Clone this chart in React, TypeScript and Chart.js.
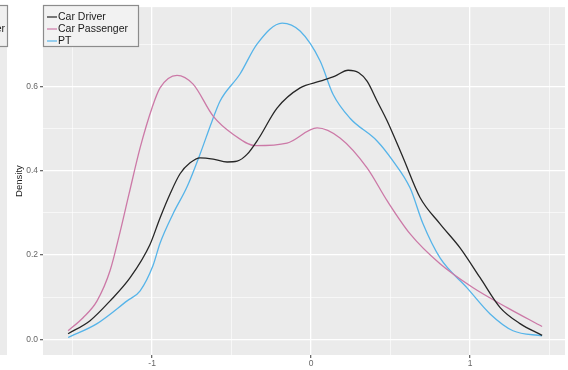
import React, { useEffect, useRef } from 'react';
import { Chart, registerables } from 'chart.js';

Chart.register(...registerables);

// ---- data ----
const seriesNames = ['Car Driver', 'Car Passenger', 'PT'];
const seriesColors = ['#262626', '#CC79A7', '#56B4E9'];

const driverX = [-1.528, -1.39, -1.264, -1.138, -1.013, -0.95, -0.887, -0.824, -0.761, -0.698, -0.616, -0.528, -0.465, -0.403, -0.333, -0.214, -0.069, 0.057, 0.15, 0.233, 0.3, 0.352, 0.415, 0.478, 0.579, 0.686, 0.811, 0.937, 1.063, 1.189, 1.314, 1.453];
const driverY = [0.013, 0.044, 0.091, 0.146, 0.225, 0.288, 0.345, 0.393, 0.419, 0.431, 0.428, 0.421, 0.423, 0.439, 0.475, 0.549, 0.597, 0.613, 0.625, 0.639, 0.633, 0.613, 0.566, 0.519, 0.431, 0.336, 0.274, 0.217, 0.146, 0.075, 0.037, 0.009];

const passengerX = [-1.528, -1.434, -1.346, -1.264, -1.201, -1.145, -1.075, -1.0, -0.95, -0.843, -0.742, -0.616, -0.491, -0.35, -0.151, 0.038, 0.182, 0.352, 0.478, 0.623, 0.811, 1.019, 1.233, 1.453];
const passengerY = [0.02, 0.051, 0.091, 0.163, 0.255, 0.345, 0.455, 0.55, 0.597, 0.627, 0.606, 0.53, 0.487, 0.46, 0.466, 0.502, 0.478, 0.407, 0.329, 0.25, 0.179, 0.122, 0.075, 0.03];

const ptX = [-1.528, -1.346, -1.157, -1.075, -0.994, -0.95, -0.868, -0.78, -0.698, -0.623, -0.572, -0.447, -0.34, -0.182, -0.069, 0.057, 0.138, 0.245, 0.415, 0.516, 0.623, 0.704, 0.811, 0.981, 1.126, 1.27, 1.453];
const ptY = [0.004, 0.037, 0.091, 0.115, 0.175, 0.228, 0.298, 0.362, 0.44, 0.518, 0.566, 0.63, 0.701, 0.751, 0.732, 0.661, 0.582, 0.525, 0.471, 0.423, 0.359, 0.274, 0.193, 0.122, 0.06, 0.02, 0.008];

const xMajorTicks = [-1, 0, 1];
const xMinorTicks = [-1.5, -0.5, 0.5, 1.5];
const yMajorTicks = [0, 0.2, 0.4, 0.6];
const yMinorTicks = [0.1, 0.3, 0.5, 0.7];
const yTitle = 'Density';

const xRange = [-1.686, 1.597];
const yRange = [-0.0376, 0.789];

const FONT = "'Liberation Sans', Arial, sans-serif";

const isMajor = (v: number, majors: number[]) => majors.some((m) => Math.abs(m - v) < 1e-6);

const pairs = (xs: number[], ys: number[]) => xs.map((x, i) => ({ x, y: ys[i] }));

const backgroundPlugin = {
  id: 'panelBg',
  beforeDraw(chart: any) {
    const { ctx, chartArea } = chart;
    ctx.save();
    ctx.fillStyle = '#EBEBEB';
    ctx.fillRect(chartArea.left, chartArea.top, chartArea.right - chartArea.left, chartArea.bottom - chartArea.top);
    // neighbouring panel strip at the left edge
    ctx.fillRect(0, chartArea.top, 7, chartArea.bottom - chartArea.top);
    ctx.fillStyle = '#F0F0F0';
    ctx.fillRect(0, 5, 7.5, 41);
    ctx.strokeStyle = '#8c8c8c';
    ctx.lineWidth = 1.2;
    ctx.strokeRect(-5, 5.5, 12.5, 41);
    ctx.beginPath();
    ctx.rect(0, 5, 6.5, 41);
    ctx.clip();
    ctx.fillStyle = '#222';
    ctx.font = `10.5px ${FONT}`;
    ctx.textAlign = 'right';
    ctx.textBaseline = 'middle';
    ctx.fillText('Car Passenger', 5, 29);
    ctx.restore();
  },
};

const legendPlugin = {
  id: 'insetLegend',
  afterDraw(chart: any) {
    const { ctx } = chart;
    ctx.save();
    const bx = 43.5, by = 5.5, bw = 95, bh = 41;
    ctx.fillStyle = '#F2F2F2';
    ctx.fillRect(bx, by, bw, bh);
    ctx.strokeStyle = '#8c8c8c';
    ctx.lineWidth = 1.2;
    ctx.strokeRect(bx, by, bw, bh);
    ctx.font = `10.5px ${FONT}`;
    ctx.textBaseline = 'middle';
    ctx.textAlign = 'left';
    seriesNames.forEach((name, i) => {
      const y = 17 + i * 12;
      ctx.strokeStyle = seriesColors[i];
      ctx.lineWidth = 1.2;
      ctx.beginPath();
      ctx.moveTo(47, y);
      ctx.lineTo(57, y);
      ctx.stroke();
      ctx.fillStyle = '#1a1a1a';
      ctx.fillText(name, 58, y + 0.5);
    });
    ctx.restore();
  },
};

export default function App() {
  const canvasRef = useRef<HTMLCanvasElement | null>(null);

  useEffect(() => {
    document.body.style.margin = '0';
    const canvas = canvasRef.current;
    if (!canvas) return;
    Chart.defaults.font.family = FONT;

    const series = [pairs(driverX, driverY), pairs(passengerX, passengerY), pairs(ptX, ptY)];

    const chart = new Chart(canvas, {
      type: 'line',
      data: {
        datasets: series.map((d, i) => ({
          label: seriesNames[i],
          data: d,
          borderColor: seriesColors[i],
          backgroundColor: seriesColors[i],
          borderWidth: 1.3,
          pointRadius: 0,
          fill: false,
          cubicInterpolationMode: 'monotone' as const,
        })),
      },
      options: {
        responsive: false,
        animation: false,
        devicePixelRatio: 1,
        layout: { padding: { top: 6, right: 3, left: 0, bottom: 0 } },
        plugins: {
          legend: { display: false },
          tooltip: { enabled: false },
        },
        scales: {
          x: {
            type: 'linear',
            min: xRange[0],
            max: xRange[1],
            afterBuildTicks: (scale: any) => {
              scale.ticks = [...xMajorTicks, ...xMinorTicks].sort((a, b) => a - b).map((v) => ({ value: v }));
            },
            afterFit: (scale: any) => {
              scale.height = 15;
            },
            border: { display: false },
            grid: {
              color: '#FFFFFF',
              lineWidth: (c: any) => (c.tick && isMajor(c.tick.value, xMajorTicks) ? 1.3 : 0.6),
              tickColor: (c: any) => (c.tick && isMajor(c.tick.value, xMajorTicks) ? '#6a6a6a' : 'rgba(0,0,0,0)'),
              tickLength: 3,
            },
            ticks: {
              autoSkip: false,
              maxRotation: 0,
              padding: 1,
              color: '#666666',
              font: { size: 8.5 },
              callback: (v: any) => (isMajor(Number(v), xMajorTicks) ? String(Math.round(Number(v))) : ''),
            },
          },
          y: {
            type: 'linear',
            min: yRange[0],
            max: yRange[1],
            afterBuildTicks: (scale: any) => {
              scale.ticks = [...yMajorTicks, ...yMinorTicks].sort((a, b) => a - b).map((v) => ({ value: v }));
            },
            afterFit: (scale: any) => {
              scale.width = 43;
            },
            border: { display: false },
            grid: {
              color: '#FFFFFF',
              lineWidth: (c: any) => (c.tick && isMajor(c.tick.value, yMajorTicks) ? 1.3 : 0.6),
              tickColor: (c: any) => (c.tick && isMajor(c.tick.value, yMajorTicks) ? '#6a6a6a' : 'rgba(0,0,0,0)'),
              tickLength: 3,
            },
            ticks: {
              autoSkip: false,
              padding: 2,
              color: '#666666',
              font: { size: 8.5 },
              callback: (v: any) => (isMajor(Number(v), yMajorTicks) ? Number(v).toFixed(1) : ''),
            },
            title: {
              display: true,
              text: yTitle,
              color: '#1a1a1a',
              font: { size: 9.5 },
              padding: { top: 14, bottom: 0 },
            },
          },
        },
      },
      plugins: [backgroundPlugin, legendPlugin],
    });

    return () => chart.destroy();
  }, []);

  return (
    <div style={{ width: 568, height: 370 }}>
      <canvas ref={canvasRef} width={568} height={370} style={{ display: 'block' }} />
    </div>
  );
}
